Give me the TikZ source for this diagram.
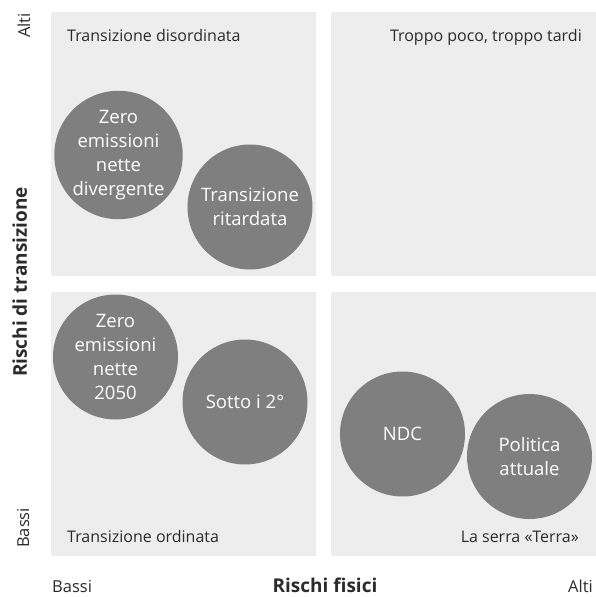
\documentclass[tikz,border=0pt]{standalone}
\usepackage{fontspec}
\setmainfont{Open Sans}
\usepackage{xcolor}

\definecolor{panelgray}{HTML}{EDEDED}
\definecolor{dotgray}{HTML}{7F7F7F}
\definecolor{labelgray}{HTML}{2B2B2B}

\begin{document}
\begin{tikzpicture}[x=1pt,y=-1pt]
	\tikzstyle{every node}+=[inner sep=0pt]
	\tikzstyle{quad}=[fill=panelgray]
	\tikzstyle{scen}=[circle,fill=dotgray,minimum size=125pt,text=white,align=center,font=\fontsize{18.5}{24}\selectfont]
	\tikzstyle{qlabel}=[text=labelgray,font=\fontsize{16}{19}\selectfont]
	\tikzstyle{axlabel}=[text=labelgray,font=\fontsize{16.5}{19}\selectfont]
	\tikzstyle{axtitle}=[text=labelgray,font=\fontsize{19}{22}\selectfont\bfseries]
	\useasboundingbox (0,0) rectangle (596,597);
	% quadrants
	\fill [quad] (51,12) rectangle (316,276);
	\fill [quad] (331,12) rectangle (596,276);
	\fill [quad] (51,292) rectangle (316,556);
	\fill [quad] (331,292) rectangle (596,556);
	% quadrant titles
	\node [qlabel,anchor=base west] (disord) at (67,41) {Transizione disordinata};
	\node [qlabel,anchor=base east] (tardi) at (582,41) {Troppo poco, troppo tardi};
	\node [qlabel,anchor=base west] (ordin) at (67,542) {Transizione ordinata};
	\node [qlabel,anchor=base east] (serra) at (579,542) {La serra «Terra»};
	% scenarios
	\node [scen] (zdiv) at (118.5,155) {Zero\\emissioni\\nette\\divergente};
	\node [scen] (ritard) at (250,207) {Transizione\\ritardata};
	\node [scen] (z2050) at (115.5,357) {Zero\\emissioni\\nette\\2050};
	\node [scen] (sotto) at (245,402) {Sotto i 2°};
	\node [scen] (ndc) at (402.5,434) {NDC};
	\node [scen] (polit) at (529.5,456.5) {Politica\\attuale};
	% axes
	\node [axlabel,rotate=90,anchor=base east] (yhi) at (30,13) {Alti};
	\node [axlabel,rotate=90,anchor=base west] (ylo) at (29,548) {Bassi};
	\node [axtitle,rotate=90,anchor=base] (ytit) at (27,282) {Rischi di transizione};
	\node [axlabel,anchor=base west] (xlo) at (52,592) {Bassi};
	\node [axtitle,anchor=base] (xtit) at (325,592) {Rischi fisici};
	\node [axlabel,anchor=base east] (xhi) at (593,592) {Alti};
\end{tikzpicture}
\end{document}
